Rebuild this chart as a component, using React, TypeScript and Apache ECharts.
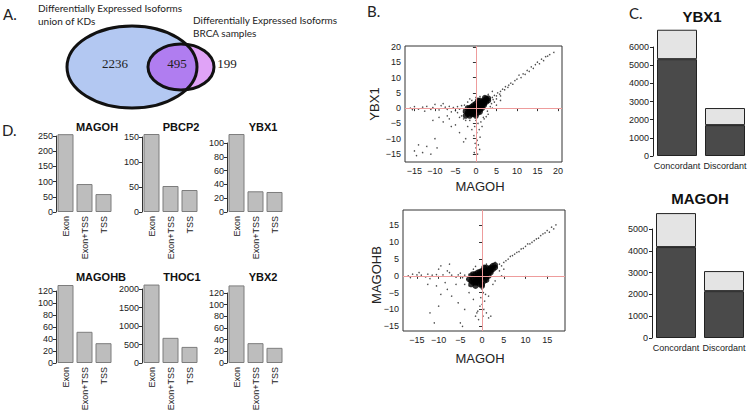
import React, { useEffect, useRef } from 'react';
import * as echarts from 'echarts';

// ---------------- data ----------------
const vennCounts = [2236, 495, 199];
const vennTitleKD = ['Differentially Expressed Isoforms', 'union of KDs'];
const vennTitleBRCA = ['Differentially Expressed Isoforms', 'BRCA samples'];

const scatterTicksTop = [-15, -10, -5, 0, 5, 10, 15, 20];
const scatterTicksBottom = [-15, -10, -5, 0, 5, 10, 15];

// YBX1 vs MAGOH (dense core + sparse points)
const ybx1Core: number[][] = [
  [-2, -1.5], [-1.5, -1], [-1, -1.5], [-1, -0.5], [-0.5, -1], [-0.5, 0], [0, -0.5], [0, 0.5], [0.5, 0],
  [0.5, 1], [1, 0.5], [1, 1.5], [1.5, 1], [1.5, 2], [2, 1.5], [2, 2.5], [2.5, 2], [0, 1.5], [-1, 0.5],
  [1, -0.5], [-0.5, -2], [0.5, -1.5], [-2, 0], [0, -2.5], [2.5, 3], [3, 2.5], [-1.5, -2.5], [1.5, 0],
  [-2.5, -1], [0.5, 2.5], [-1.5, -1.5], [-1, -2], [-2, -2], [0, 0], [0.5, 0.5], [1, 1], [-0.5, -0.5],
  [1.5, 1.5], [2, 2], [-0.5, 1], [0.5, -0.5], [1, 2.5], [2, 1], [-1.5, 0], [1, -1.2], [-2.5, -2.5],
  [3, 3.2], [2.2, 3.4],
];
const ybx1Points: number[][] = [
  [3.5, 3], [4, 3.5], [4.2, 2.8], [4.5, 4.2], [5, 4], [5.3, 5], [5.8, 4.6], [6, 5.5], [6.5, 6.2], [7, 6],
  [7.2, 7], [7.8, 6.8], [8, 7.5], [8.5, 8.2], [9, 7.8], [9.5, 9], [10, 9.5], [10.5, 10.8], [11, 10],
  [11.5, 11.2], [12, 11], [12.5, 12.3], [13, 12], [13.5, 13.5], [14, 13], [14.5, 14.2], [15, 15],
  [15.5, 14.5], [16, 16], [16.5, 15.5], [17, 16.8], [17.5, 17], [18, 17.5], [19, 18.2], [3, 4.5],
  [4, 5.5], [5, 3], [6, 4], [3.8, 1.5], [4.5, 2], [2.8, -1], [3.5, 0.5],
  [-16, 0], [-15.5, -0.5], [-15, 0.5], [-14, -0.3], [-13, 0.3], [-12.5, -1], [-12, 0.6], [-11, -0.4],
  [-10.5, 0.2], [-10, 1.2], [-9, -0.6], [-8.5, 0.8], [-8, 1.5], [-7.5, 0.3], [-7, -0.4], [-6.5, 0.6],
  [-6, -1.2], [-5.5, 0.2], [-5, -0.8], [-4.5, 0.5], [-4, -0.3], [-3.5, 0.8], [-3, -1.5], [-3.5, -2.5],
  [-4, -3], [-4.5, -1.5], [-3, -3.5], [-2.5, -4],
  [-15, -14], [-14.5, -15.5], [-14, -12], [-13, -14.5], [-12, -12.5], [-11, -15], [-10, -10],
  [-10.5, -4], [-9.5, -13], [-9, -3], [-8, -4.5], [-7, -2.5], [-6, -6], [-4, -8], [-3, -11],
  [-5, -5.5], [-2, -6], [-2.5, -10], [-6.5, -3.5],
  [0, -4], [0.5, -5], [-0.3, -6], [0.8, -7], [0.2, -8], [-0.5, -9], [1, -9.5], [0.3, -10.5],
  [-0.2, -11.5], [0.6, -12], [0, -13], [0.9, -13.5], [-0.4, -14.5], [0.4, -15], [1.5, -6], [-1, -7],
  [2, -3.5], [1.2, -4.5], [-1.5, -4],
  [-2, 2], [-1.5, 3], [-1, 2.5], [3, -2], [2.5, -2.8], [1.8, -3], [-2.8, 1], [4, 0], [5, 1], [6, 2.5],
  [1, 3.8], [0, 3.5],
];

// MAGOHB vs MAGOH
const magohbCore: number[][] = [
  [-2.5, -1.5], [-2, -1], [-1.5, -2], [-1.5, -0.5], [-1, -1], [-1, 0], [-0.5, -1.5], [-0.5, 0.5],
  [0, -0.5], [0, 0.5], [0.5, 0], [0.5, 1], [1, 0.5], [1, 1.5], [1.5, 1], [1.5, 2], [2, 1.5], [2, 2.5],
  [2.5, 2], [0, 1.5], [-1, 1], [1, -0.5], [-0.5, -2.5], [0.5, -1.5], [-2, 0.5], [0, -2.5], [2.5, 3],
  [3, 2.5], [-1.5, -3], [1.5, 0], [-2.5, 0], [0.5, 2.5], [-3, -1], [0, -3], [-2, -2], [-1, -2],
  [0, 0], [0.5, 0.5], [1, 1], [-0.5, -0.5], [1.5, 1.5], [2, 2], [-0.5, -1], [-1.5, -1.5], [1, 2.5],
  [2, 1], [-1.5, 0.5], [1, -1.2], [-2.5, -2.5], [3, 3.2], [-0.5, 1.2],
];
const magohbPoints: number[][] = [
  [3.5, 2.5], [4, 3.5], [4.5, 3], [5, 4], [5.5, 4.5], [6, 5], [6.5, 5.8], [7, 6], [7.5, 6.5], [8, 7],
  [8.5, 7.2], [9, 8], [9.5, 8.2], [10, 8.8], [10.5, 9.5], [11, 9.5], [11.5, 10], [12, 10.5],
  [12.5, 11], [13, 11.2], [13.5, 12], [14, 12.5], [14.5, 12.8], [15, 13.5], [15.5, 13], [16, 14.5],
  [16.5, 14], [17, 15.2], [3, 4], [2.8, 3.5], [4, 1.5], [5, 2],
  [-17, 0], [-16.5, -0.5], [-16, 0.5], [-15, 0.3], [-14.5, 1], [-14, 0.2], [-13, -0.3], [-12.5, 0.5],
  [-12, -0.8], [-11.5, 0.2], [-10.5, 0.4], [-10, 2], [-9, 0.3], [-8, 1.5], [-7.5, 1], [-7, 0.2],
  [-6, -0.4], [-5.5, 0.3], [-5, 0.8], [-4.5, -0.5], [-4, 0.2], [-3.5, -1], [-3, 0.5], [-9.5, 3],
  [-7.5, 3.5], [-4, -2.5], [-3, -3],
  [-12, -11], [-10, -9], [-9.5, -5.5], [-8.5, -2], [-8, -4], [-7, -6], [-6, -2.5], [-5.5, -8],
  [-5, -14], [-4.5, -15], [-11, -14], [-4, -10], [-3, -5], [-2, -7], [-12.5, -2.5], [-10.5, -3],
  [0, -4], [0.3, -5], [-0.3, -6.5], [0.6, -7.5], [0, -8.5], [-0.5, -9], [0.4, -10], [-1, -10.5],
  [1, -11], [-1.5, -12], [0.2, -12], [1.5, -12.5], [-0.8, -13], [2, -12], [-1.2, -11], [0.8, -5.5],
  [1.5, -6],
  [-2, 2], [-1.5, 2.8], [3, -1.5], [2.5, -2.5], [4.5, 0], [-2.5, 1], [1, 3.5],
];

const cCategories = ['Concordant', 'Discordant'];
const cYBX1Dark = [5330, 1700];
const cYBX1Light = [1620, 940];
const cMAGOHDark = [4170, 2150];
const cMAGOHLight = [1560, 920];

const dCategories = ['Exon', 'Exon+TSS', 'TSS'];
const dGenes = ['MAGOH', 'PBCP2', 'YBX1', 'MAGOHB', 'THOC1', 'YBX2'];
const dMAGOH = [256, 92, 59];
const dPBCP2 = [156, 52, 44];
const dYBX1 = [113, 30, 29];
const dMAGOHB = [130, 52, 33];
const dTHOC1 = [2120, 680, 435];
const dYBX2 = [133, 34, 26];
const dMax = [250, 150, 100, 120, 2000, 120];
const dInterval = [50, 50, 20, 20, 500, 20];

// ---------------- layout ----------------
const SANS = 'Liberation Sans, Arial, sans-serif';
const MYR = 'Lato, Open Sans, sans-serif';
const SERIF = 'Liberation Serif, Times New Roman, serif';

const bigE = { cx: 132, cy: 67, rx: 65, ry: 41 };
const smallE = { cx: 181, cy: 67, rx: 33, ry: 23 };

const dLayout = [
  { left: 56, top: 136, height: 76, tc: 97, tt: 122 },
  { left: 142, top: 137, height: 75, tc: 181, tt: 122 },
  { left: 227, top: 143, height: 69, tc: 263, tt: 122 },
  { left: 56, top: 291, height: 72, tc: 101, tt: 272 },
  { left: 142, top: 289, height: 74, tc: 182, tt: 272 },
  { left: 227, top: 293, height: 70, tc: 263, tt: 272 },
];
const dData = [dMAGOH, dPBCP2, dYBX1, dMAGOHB, dTHOC1, dYBX2];

function rayDist(px: number, py: number, e: any, dx: number, dy: number) {
  const ox = px - e.cx, oy = py - e.cy;
  const A = (dx * dx) / (e.rx * e.rx) + (dy * dy) / (e.ry * e.ry);
  const B = 2 * ((ox * dx) / (e.rx * e.rx) + (oy * dy) / (e.ry * e.ry));
  const C = (ox * ox) / (e.rx * e.rx) + (oy * oy) / (e.ry * e.ry) - 1;
  return (-B + Math.sqrt(B * B - 4 * A * C)) / (2 * A);
}

function lensPoints() {
  const cx = (bigE.cx + bigE.rx + smallE.cx - smallE.rx) / 2;
  const cy = smallE.cy;
  const pts: number[][] = [];
  for (let i = 0; i < 180; i++) {
    const t = (i / 180) * Math.PI * 2;
    const dx = Math.cos(t), dy = Math.sin(t);
    const r = Math.min(rayDist(cx, cy, bigE, dx, dy), rayDist(cx, cy, smallE, dx, dy));
    pts.push([cx + r * dx, cy + r * dy]);
  }
  return pts;
}

const minus = (v: number) => (v < 0 ? '\u2212' + Math.abs(v) : String(v));
const plain = (v: number) => String(v);

function scatterAxis(gridIndex: number, min: number, max: number, ticks: number[]) {
  return {
    type: 'value', gridIndex, min, max,
    splitLine: { show: false },
    axisLine: { show: false },
    axisTick: { show: true, length: 3, customValues: ticks, lineStyle: { color: '#333' } },
    axisLabel: { customValues: ticks, fontSize: 9, color: '#222', fontFamily: SANS, margin: 4, formatter: minus },
  };
}

function text(x: number, y: number, t: string, font: string, extra: any = {}) {
  return {
    type: 'text', x, y, rotation: extra.rotation || 0,
    style: {
      text: t, font, fill: extra.fill || '#222',
      textAlign: extra.align || 'left', textVerticalAlign: extra.valign || 'top',
    },
  };
}

export default function App() {
  const ref = useRef<HTMLDivElement>(null);
  useEffect(() => {
    document.body.style.margin = '0';
    const chart = echarts.init(ref.current!, undefined, { renderer: 'svg', width: 749, height: 410 });

    const grids: any[] = [
      { left: 405, top: 46, width: 157, height: 116, show: true, borderColor: '#333', borderWidth: 1 },
      { left: 403, top: 210, width: 162, height: 121, show: true, borderColor: '#333', borderWidth: 1 },
      { left: 653, top: 47, width: 96, height: 109 },
      { left: 652, top: 229, width: 96, height: 109 },
      ...dLayout.map((l) => ({ left: l.left, top: l.top, width: 57, height: l.height })),
    ].map((g) => ({ ...g, containLabel: false, outerBoundsMode: 'none' }));

    const xAxes: any[] = [
      scatterAxis(0, -17.3, 21, scatterTicksTop),
      scatterAxis(1, -18.2, 19.1, scatterTicksBottom),
    ];
    const yAxes: any[] = [
      scatterAxis(0, -17.6, 20.3, scatterTicksTop),
      scatterAxis(1, -16.4, 19.6, scatterTicksBottom),
    ];
    [2, 3].forEach((gi, i) => {
      xAxes.push({
        type: 'category', gridIndex: gi, data: cCategories,
        axisLine: { show: false }, axisTick: { show: false },
        axisLabel: { fontSize: 9, color: '#222', fontFamily: SANS, margin: 5, interval: 0 },
      });
      yAxes.push({
        type: 'value', gridIndex: gi, min: 0, max: i === 0 ? 6000 : 5000, interval: 1000,
        splitLine: { show: false },
        axisLine: { show: true, lineStyle: { color: '#222' } },
        axisTick: { show: true, length: 3, lineStyle: { color: '#222' } },
        axisLabel: { fontSize: 9, color: '#222', fontFamily: SANS, margin: 4, formatter: plain },
      });
    });
    dLayout.forEach((l, i) => {
      xAxes.push({
        type: 'category', gridIndex: 4 + i, data: dCategories,
        axisLine: { show: false }, axisTick: { show: false },
        axisLabel: { rotate: 90, fontSize: 9, color: '#222', fontFamily: SANS, margin: 4, interval: 0 },
      });
      yAxes.push({
        type: 'value', gridIndex: 4 + i, min: 0, max: dMax[i], interval: dInterval[i],
        splitLine: { show: false },
        axisLine: { show: true, lineStyle: { color: '#333' } },
        axisTick: { show: true, length: 3, lineStyle: { color: '#333' } },
        axisLabel: { fontSize: 9, color: '#222', fontFamily: SANS, margin: 3, formatter: plain },
      });
    });

    const redLine = {
      silent: true, symbol: ['none', 'none'], label: { show: false },
      lineStyle: { color: '#ee9c9c', width: 1, type: 'solid' },
      data: [{ xAxis: 0 }, { yAxis: 0 }],
    };

    const series: any[] = [
      { type: 'scatter', xAxisIndex: 0, yAxisIndex: 0, data: ybx1Core, symbolSize: 6, itemStyle: { color: '#000' }, markLine: redLine, z: 2 },
      { type: 'scatter', xAxisIndex: 0, yAxisIndex: 0, data: ybx1Points, symbolSize: 1.5, itemStyle: { color: '#222' }, z: 3 },
      { type: 'scatter', xAxisIndex: 1, yAxisIndex: 1, data: magohbCore, symbolSize: 6, itemStyle: { color: '#000' }, markLine: redLine, z: 2 },
      { type: 'scatter', xAxisIndex: 1, yAxisIndex: 1, data: magohbPoints, symbolSize: 1.5, itemStyle: { color: '#222' }, z: 3 },
    ];
    const cSets = [[cYBX1Dark, cYBX1Light], [cMAGOHDark, cMAGOHLight]];
    cSets.forEach(([dark, light], i) => {
      series.push({
        type: 'bar', xAxisIndex: 2 + i, yAxisIndex: 2 + i, stack: 'c' + i, data: dark, barWidth: 40, clip: false,
        itemStyle: { color: '#4a4a4a', borderColor: '#222', borderWidth: 1 },
      });
      series.push({
        type: 'bar', xAxisIndex: 2 + i, yAxisIndex: 2 + i, stack: 'c' + i, data: light, barWidth: 40, clip: false,
        itemStyle: { color: '#e4e4e4', borderColor: '#222', borderWidth: 1 },
      });
    });
    dData.forEach((d, i) => {
      series.push({
        type: 'bar', xAxisIndex: 4 + i, yAxisIndex: 4 + i, data: d, barWidth: 16, clip: false,
        itemStyle: { color: '#bdbdbd', borderColor: '#7d7d7d', borderWidth: 1 },
      });
    });

    const graphic: any[] = [
      // Venn
      { type: 'ellipse', shape: bigE, style: { fill: '#b3c8f2', stroke: 'none' } },
      { type: 'ellipse', shape: smallE, style: { fill: '#e0a3f7', stroke: 'none' } },
      { type: 'polygon', shape: { points: lensPoints() }, style: { fill: '#b07df0', stroke: 'none' } },
      { type: 'ellipse', shape: bigE, style: { fill: 'none', stroke: '#111', lineWidth: 3 } },
      { type: 'ellipse', shape: smallE, style: { fill: 'none', stroke: '#111', lineWidth: 3 } },
      text(115, 63, String(vennCounts[0]), `13px ${SERIF}`, { align: 'center', valign: 'middle' }),
      text(177, 63, String(vennCounts[1]), `13px ${SERIF}`, { align: 'center', valign: 'middle' }),
      text(227, 63, String(vennCounts[2]), `13px ${SERIF}`, { align: 'center', valign: 'middle' }),
      text(3, 6, 'A.', `15px ${MYR}`),
      text(38, 3, vennTitleKD[0], `10px ${MYR}`),
      text(38, 16, vennTitleKD[1], `10px ${MYR}`),
      text(193, 15, vennTitleBRCA[0], `10px ${MYR}`),
      text(193, 28, vennTitleBRCA[1], `10px ${MYR}`),
      // B
      text(367, 3, 'B.', `15px ${MYR}`),
      text(374, 104, 'YBX1', `13px ${SANS}`, { rotation: Math.PI / 2, align: 'center', valign: 'middle' }),
      text(480, 186, 'MAGOH', `13px ${SANS}`, { align: 'center', valign: 'middle' }),
      text(376, 275, 'MAGOHB', `13px ${SANS}`, { rotation: Math.PI / 2, align: 'center', valign: 'middle' }),
      text(480, 358, 'MAGOH', `13px ${SANS}`, { align: 'center', valign: 'middle' }),
      // C
      text(629, 5, 'C.', `15px ${MYR}`),
      text(702, 16, 'YBX1', `bold 15px ${SANS}`, { align: 'center', valign: 'middle', fill: '#111' }),
      text(700, 198, 'MAGOH', `bold 15px ${SANS}`, { align: 'center', valign: 'middle', fill: '#111' }),
      // D
      text(2, 122, 'D.', `15px ${MYR}`),
      ...dLayout.map((l, i) => text(l.tc, l.tt + 5, dGenes[i], `bold 11px ${SANS}`, { align: 'center', valign: 'middle', fill: '#111' })),
    ];

    chart.setOption({
      animation: false,
      backgroundColor: '#fff',
      grid: grids,
      xAxis: xAxes,
      yAxis: yAxes,
      series,
      graphic,
    });
    return () => chart.dispose();
  }, []);
  return <div ref={ref} style={{ width: 749, height: 410 }} />;
}
